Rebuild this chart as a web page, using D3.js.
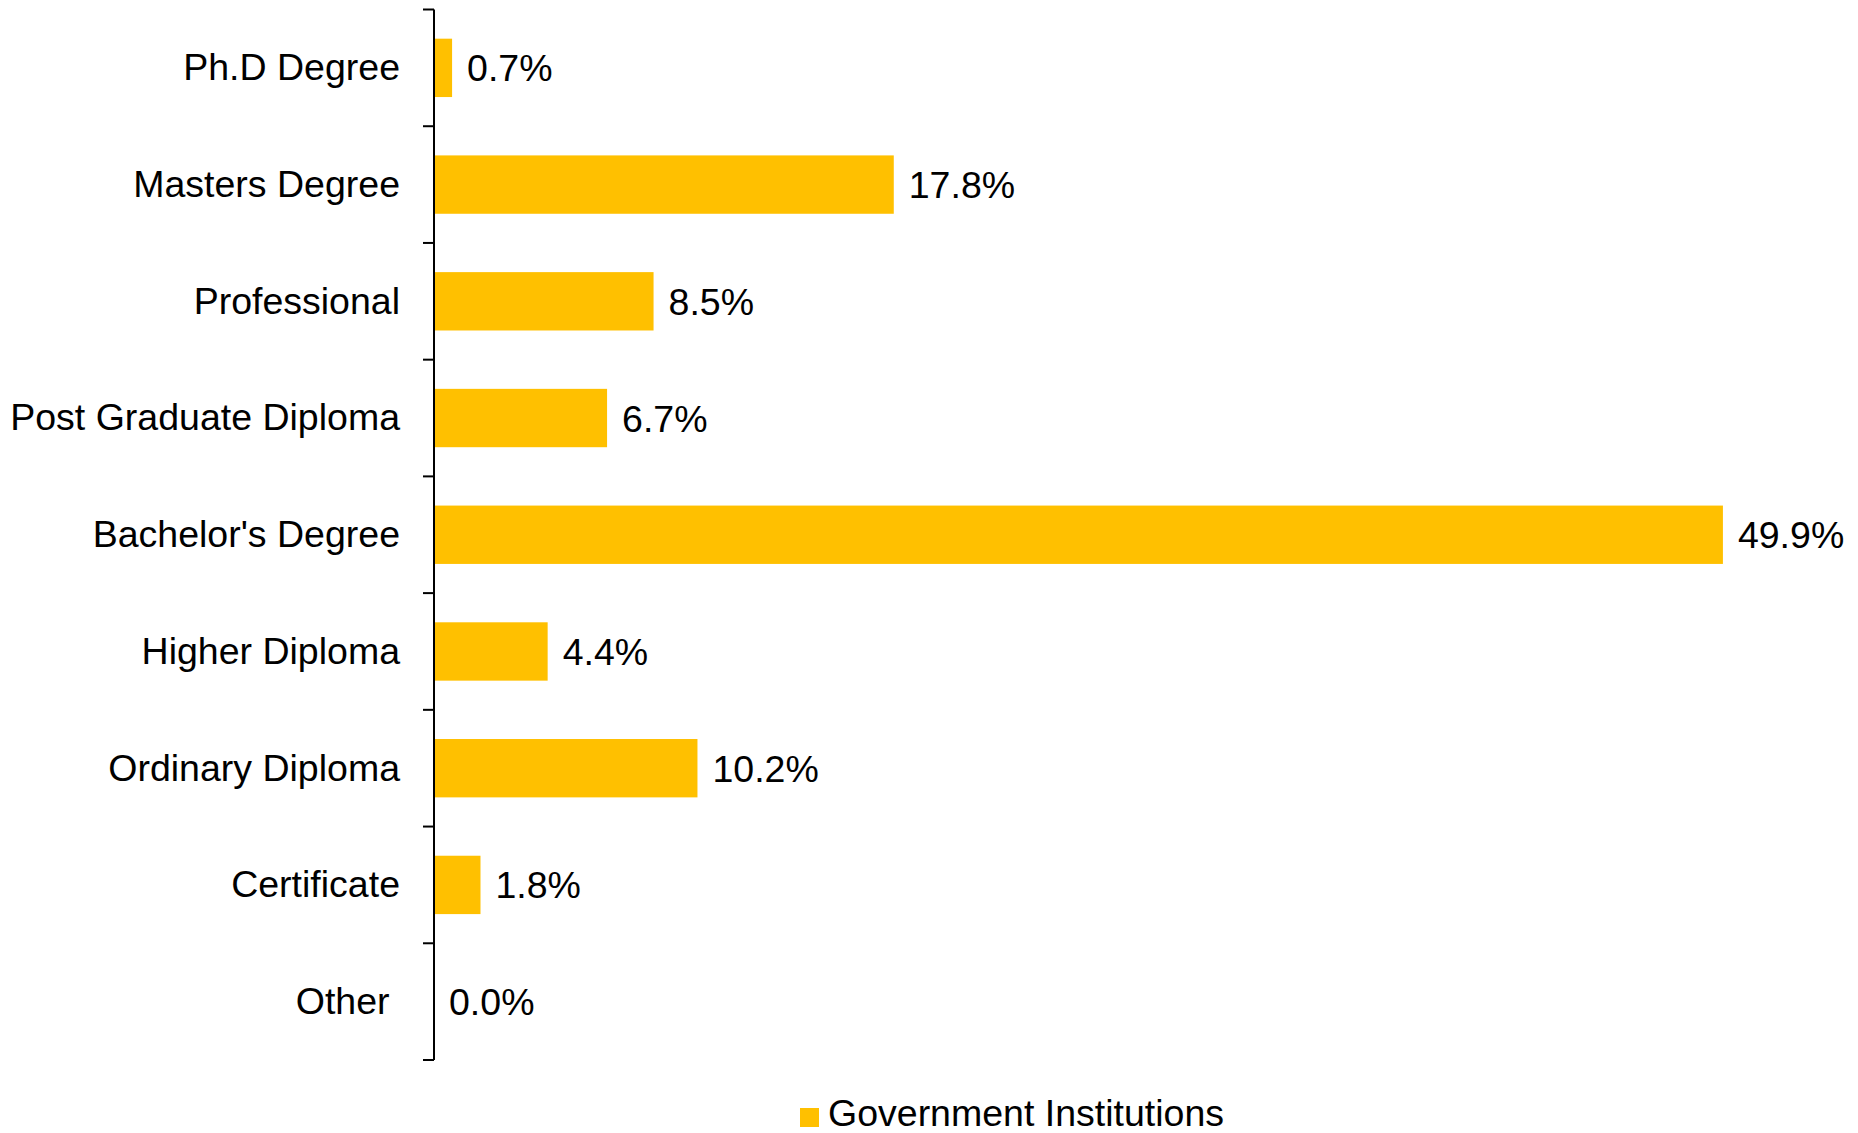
<!DOCTYPE html>
<html>
<head>
<meta charset="utf-8">
<script src="https://cdn.jsdelivr.net/npm/d3@7"></script>
<style>
  html, body { margin: 0; padding: 0; background: #fff; }
  svg { display: block; font-family: "Liberation Sans", Arial, sans-serif; }
</style>
</head>
<body>
<svg id="chart" width="1858" height="1133"></svg>
<script>
const categories = ["Ph.D Degree", "Masters Degree", "Professional", "Post Graduate Diploma",
  "Bachelor's Degree", "Higher Diploma", "Ordinary Diploma", "Certificate", "Other "];
const values = [0.7, 17.8, 8.5, 6.7, 49.9, 4.4, 10.2, 1.8, 0.0];
const seriesName = "Government Institutions";
const barColor = "#FFC000";

(function () {
const svg = d3.select("#chart");
const plotLeft = 434, plotTop = 9.5, plotBottom = 1060;
const fs = 37.5;

const x = d3.scaleLinear().domain([0, 55]).range([plotLeft, plotLeft + 55 * 25.83]);
const y = d3.scaleBand().domain(categories).range([plotTop, plotBottom]).paddingInner(0.5).paddingOuter(0.25);

// bars
svg.append("g").selectAll("rect")
  .data(categories)
  .join("rect")
  .attr("x", x(0))
  .attr("y", d => y(d))
  .attr("width", (d, i) => x(values[i]) - x(0))
  .attr("height", y.bandwidth())
  .attr("fill", barColor);

// value labels
svg.append("g").selectAll("text")
  .data(categories)
  .join("text")
  .attr("x", (d, i) => x(values[i]) + 15)
  .attr("y", d => y(d) + y.bandwidth() / 2)
  .attr("dy", "0.36em")
  .attr("font-size", fs)
  .attr("fill", "#000")
  .text((d, i) => values[i].toFixed(1) + "%");

// axis line and ticks at category boundaries
const axisG = svg.append("g");
axisG.append("line")
  .attr("x1", plotLeft).attr("x2", plotLeft)
  .attr("y1", plotTop).attr("y2", plotBottom)
  .attr("stroke", "#000").attr("stroke-width", 2);
const step = (plotBottom - plotTop) / categories.length;
const bounds = d3.range(categories.length + 1).map(i => plotTop + i * step);
axisG.selectAll("line.tick")
  .data(bounds)
  .join("line")
  .attr("class", "tick")
  .attr("x1", plotLeft - 11).attr("x2", plotLeft)
  .attr("y1", d => d).attr("y2", d => d)
  .attr("stroke", "#000").attr("stroke-width", 2);

// category labels
svg.append("g").selectAll("text")
  .data(categories)
  .join("text")
  .attr("x", plotLeft - 34)
  .attr("y", d => y(d) + y.bandwidth() / 2)
  .attr("dy", "0.33em")
  .attr("text-anchor", "end")
  .attr("font-size", fs)
  .attr("fill", "#000")
  .style("white-space", "pre")
  .text(d => d);

// legend
const lg = svg.append("g");
lg.append("rect").attr("x", 800).attr("y", 1108).attr("width", 19).attr("height", 19).attr("fill", barColor);
lg.append("text").attr("x", 828).attr("y", 1126).attr("font-size", fs).attr("fill", "#000").text(seriesName);
})();
</script>
</body>
</html>
